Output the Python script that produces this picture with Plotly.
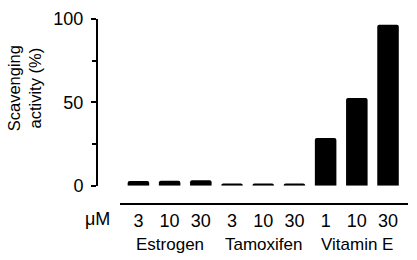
import plotly.graph_objects as go

dose_labels = ["3", "10", "30", "3", "10", "30", "1", "10", "30"]
groups = ["Estrogen", "Tamoxifen", "Vitamin E"]
group_sizes = [3, 3, 3]
activity = [2.8, 3.0, 3.3, 1.3, 1.3, 1.3, 28.6, 52.6, 96.5]
y_ticks = [0, 50, 100]
y_minor_ticks = [25, 75]

FONT = "Liberation Sans, Arial, Helvetica, sans-serif"
x_pos = list(range(len(activity)))

fig = go.Figure()
fig.add_trace(go.Bar(
    x=x_pos, y=activity, width=0.69,
    marker=dict(color="black", line=dict(width=0), cornerradius=2),
    showlegend=False,
))

centers = []
start = 0
for n in group_sizes:
    centers.append(start + (n - 1) / 2)
    start += n

annotations = []
for g, c in zip(groups, centers):
    annotations.append(dict(x=c, y=-0.219, xref="x", yref="paper", text=g,
                            showarrow=False, xanchor="center", yanchor="middle",
                            font=dict(family=FONT, size=17, color="black")))
annotations.append(dict(x=0.003, y=-0.083, xref="paper", yref="paper", text="\u03bcM",
                        showarrow=False, xanchor="center", yanchor="middle",
                        font=dict(family=FONT, size=18, color="black")))
annotations.append(dict(x=-0.235, y=0.625, xref="paper", yref="paper",
                        text="Scavenging<br>activity (%)", textangle=-90,
                        showarrow=False, xanchor="center", yanchor="middle",
                        font=dict(family=FONT, size=16.5, color="black")))

fig.update_layout(
    width=417, height=260,
    margin=dict(l=97, r=9, t=12, b=56),
    paper_bgcolor="white", plot_bgcolor="white",
    font=dict(family=FONT, size=18, color="black"),
    xaxis=dict(domain=[0.074, 1], anchor="free", position=0,
               range=[-0.59, 8.64], showline=True, linewidth=2, linecolor="black",
               ticks="", tickvals=x_pos, ticktext=dose_labels,
               showgrid=False, zeroline=False, fixedrange=True,
               tickfont=dict(family=FONT, size=18)),
    yaxis=dict(domain=[0.099, 1], anchor="free", position=0,
               range=[0, 100], showline=True, linewidth=2, linecolor="black",
               ticks="outside", ticklen=5, tickwidth=2, tickcolor="black",
               tickvals=y_ticks, ticklabelstandoff=4,
               minor=dict(tickvals=y_minor_ticks, ticks="outside", ticklen=4,
                          tickwidth=2, tickcolor="black"),
               showgrid=False, zeroline=False, fixedrange=True,
               tickfont=dict(family=FONT, size=18)),
    annotations=annotations,
)

fig.write_html("out.html", config={"staticPlot": True},
               post_script="document.body.style.margin='0';document.body.style.overflow='hidden';")
